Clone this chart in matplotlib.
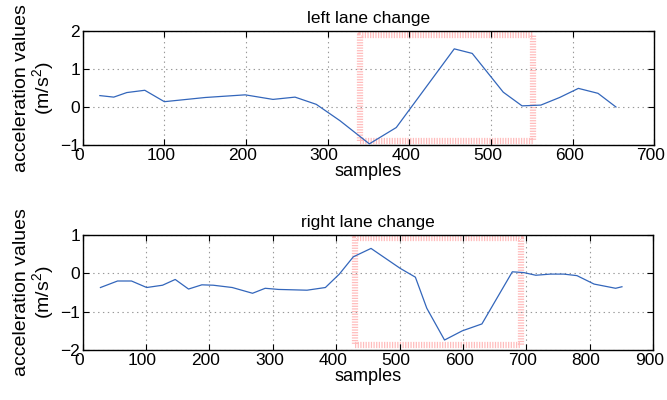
import numpy as np
import matplotlib
matplotlib.use('Agg')
import matplotlib.pyplot as plt
import matplotlib.transforms as mtransforms

plt.rcParams['font.family'] = ['Liberation Sans', 'DejaVu Sans']
plt.rcParams['mathtext.fontset'] = 'custom'
plt.rcParams['mathtext.rm'] = 'Liberation Sans'
plt.rcParams['mathtext.default'] = 'regular'
plt.rcParams['lines.scale_dashes'] = False

## left lane change
left_x = [21, 38, 54, 76, 100, 150, 199, 233, 260, 286, 315, 351, 384, 455, 477, 515, 538, 561, 584, 607, 631, 653]
left_y = [0.30, 0.26, 0.38, 0.44, 0.14, 0.25, 0.32, 0.20, 0.26, 0.07, -0.36, -0.97, -0.54, 1.53, 1.41, 0.39, 0.03, 0.05, 0.25, 0.49, 0.36, 0.0]
left_win_x = [340, 552]
left_win_y = [-0.9, 1.9]

## right lane change
right_x = [28, 55, 77, 101, 126, 146, 167, 188, 206, 236, 268, 288, 309, 354, 383, 405, 427, 455, 501, 525,
           543, 571, 599, 630, 678, 696, 715, 738, 759, 780, 807, 841, 851]
right_y = [-0.37, -0.20, -0.20, -0.37, -0.31, -0.16, -0.41, -0.30, -0.31, -0.37, -0.52, -0.39, -0.42, -0.44, -0.37, -0.02,
           0.43, 0.65, 0.13, -0.10, -0.91, -1.74, -1.50, -1.32, 0.04, 0.02, -0.05, -0.02, -0.02, -0.06, -0.28, -0.39, -0.35]
right_win_x = [429, 691]
right_win_y = [-1.86, 0.93]

blue = '#3366bb'
pink = '#ff9999'

fig = plt.figure(figsize=(6.67, 4.0), dpi=100)
ax1 = fig.add_axes([0.124, 0.6375, 0.857, 0.285])
ax2 = fig.add_axes([0.124, 0.125, 0.855, 0.2875])

shift = mtransforms.ScaledTranslation(-3.5 / 100, 0, fig.dpi_scale_trans)


def window(ax, wx, wy):
   xs = [wx[0], wx[1], wx[1], wx[0], wx[0]]
   ys = [wy[0], wy[0], wy[1], wy[1], wy[0]]
   ax.plot(xs, ys, color=pink, alpha=0.65, lw=4.5, linestyle=(0, (0.9, 1.0)), zorder=1)


def style(ax, xlim, ylim, title):
   ax.set_xlim(*xlim)
   ax.set_ylim(*ylim)
   ax.set_yticks(np.arange(ylim[0], ylim[1] + 1))
   ax.grid(True, color='#999999', linestyle=(0, (1, 2.5)), lw=0.8)
   ax.tick_params(direction='in', top=True, right=True, length=4, width=0.8, labelsize=12.5, pad=2)
   for s in ax.spines.values():
      s.set_linewidth(1.0)
   for lab in ax.get_xticklabels():
      lab.set_transform(lab.get_transform() + shift)
   ax.set_title(title, fontsize=12.5, pad=6)
   ax.set_xlabel('samples', fontsize=13, labelpad=0)
   ax.set_ylabel('acceleration values\n(m/s$^2$)', fontsize=14, labelpad=3, linespacing=1.0)


window(ax1, left_win_x, left_win_y)
ax1.plot(left_x, left_y, color=blue, lw=0.9, zorder=3)
style(ax1, (0, 700), (-1, 2), 'left lane change')

window(ax2, right_win_x, right_win_y)
ax2.plot(right_x, right_y, color=blue, lw=0.9, zorder=3)
style(ax2, (0, 900), (-2, 1), 'right lane change')

fig.savefig('out.png', dpi=100)
